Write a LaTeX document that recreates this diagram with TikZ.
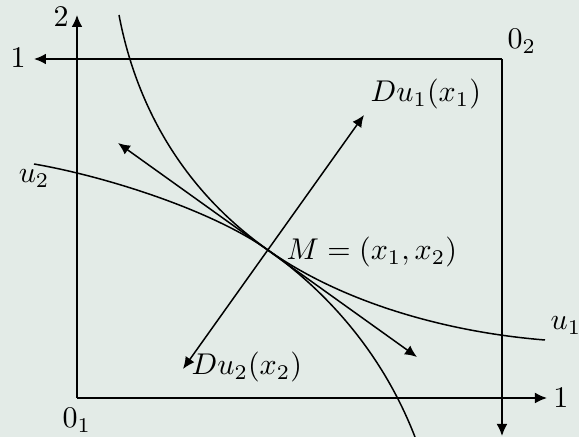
\documentclass[tikz,border=0pt]{standalone}
\usetikzlibrary{arrows.meta}
\definecolor{bg}{RGB}{227,235,231}
\begin{document}
\begin{tikzpicture}[x=0.33333pt,y=-0.33333pt, line width=0.5pt,
  tip/.style={-{Latex[length=4pt,width=3.6pt]}},
  dtip/.style={{Latex[length=4pt,width=3.6pt]}-{Latex[length=4pt,width=3.6pt]}},
  lbl/.style={inner sep=0pt, anchor=base west},
  dig/.style={inner sep=0pt, anchor=base}]
\fill[bg] (0,0) rectangle (579,437);
\useasboundingbox (0,0) rectangle (579,437);
% axes
\coordinate (O1) at (77,398);
\coordinate (O2) at (502,59);
\coordinate (X1end) at (547,398);
\coordinate (Y1end) at (77,15);
\coordinate (X2end) at (34,59);
\coordinate (Y2end) at (502,436);
\draw[tip] (O1) -- (X1end);
\draw[tip] (O1) -- (Y1end);
\draw[tip] (O2) -- (X2end);
\draw[tip] (O2) -- (Y2end);
% labels of axes
\node[dig] (l2) at (61,27) {2};
\node[dig] (l1a) at (18,68) {1};
\node[dig] (l1b) at (561,408) {1};
\node[lbl] (o2) at (507,49) {$0_2$};
\node[lbl] (o1) at (62,428) {$0_1$};
% curves
\coordinate (M) at (268,250);
\coordinate (A0) at (119,15);
\coordinate (A1) at (545,340);
\coordinate (B0) at (34,164);
\coordinate (B1) at (415,437);
\draw (A0) .. controls (137,110) and (186,192) .. (M)
           .. controls (341.5,302) and (445,332) .. (A1);
\draw (B0) .. controls (104,176) and (210.8,209.6) .. (M)
           .. controls (317,284.6) and (379,344) .. (B1);
\node[lbl] (u2) at (18,183) {$u_2$};
\node[lbl] (u1) at (550,330) {$u_1$};
% tangent and gradient
\coordinate (T0) at (118,143);
\coordinate (T1) at (417,357);
\coordinate (G0) at (183,369);
\coordinate (G1) at (364,115);
\draw[dtip] (T0) -- (T1);
\draw[dtip] (G0) -- (G1);
\node[lbl] (ml) at (286,260) {$M=(x_1,x_2)$};
\node[lbl] (d1) at (370,102) {$Du_1(x_1)$};
\node[lbl] (d2) at (191,375) {$Du_2(x_2)$};
\end{tikzpicture}
\end{document}
